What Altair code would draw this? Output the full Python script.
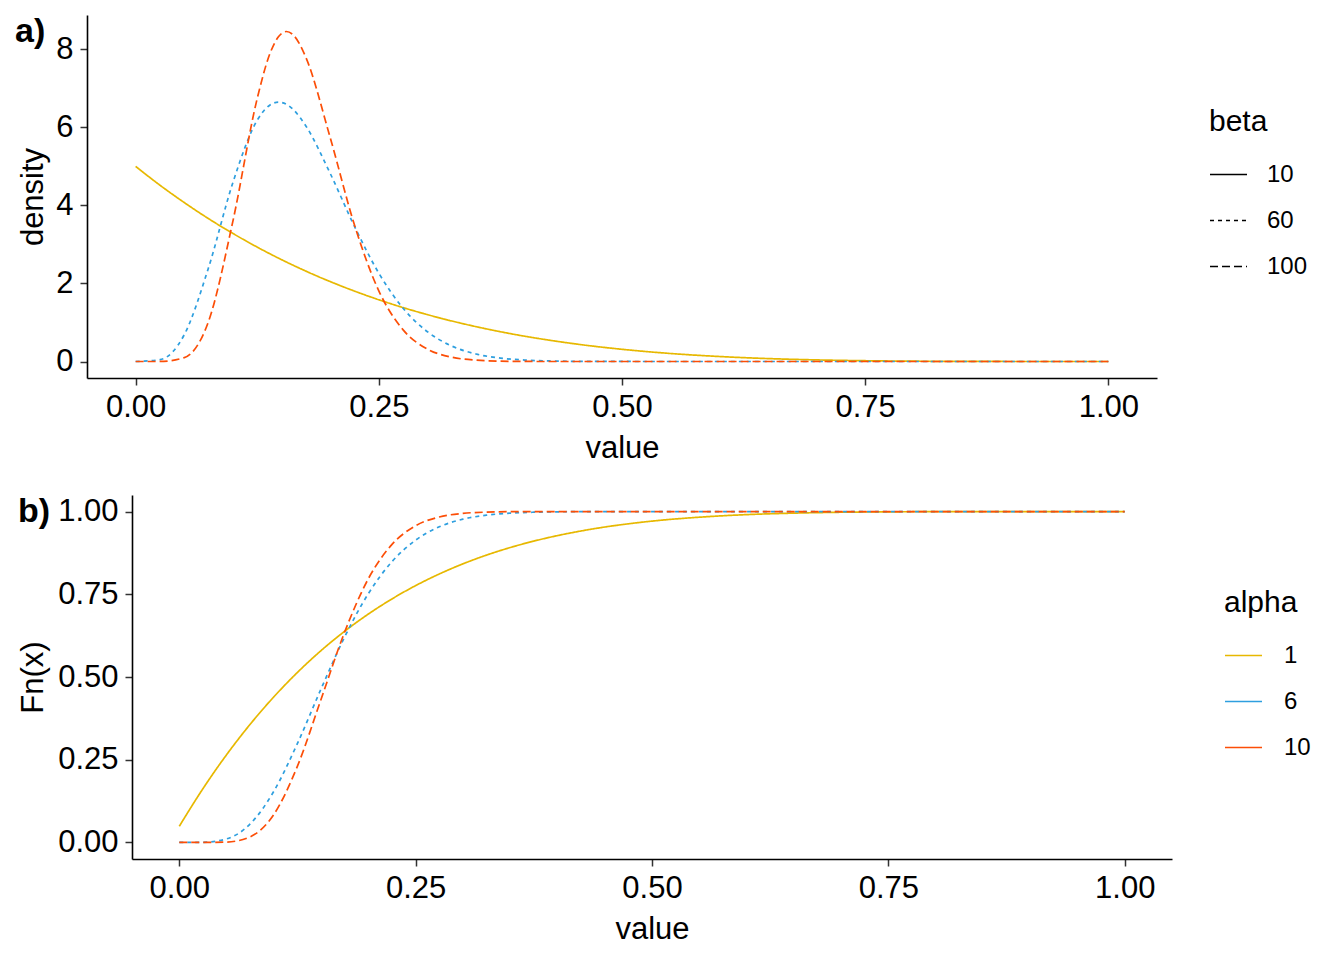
import altair as alt
import pandas as pd

FONT = "Liberation Sans"

# ---------- data ----------
alpha_levels = ["1", "6", "10"]
beta_levels = ["10", "60", "100"]
colors = ["#E7B800", "#2E9FDF", "#FC4E07"]
dashes = [[1, 0], [4, 4], [8, 4]]

x_density = [0, 0.025, 0.05, 0.075, 0.1, 0.125, 0.1375, 0.147, 0.15, 0.155, 0.1625,
             0.175, 0.2, 0.225, 0.25, 0.275, 0.3, 0.325, 0.35, 0.375, 0.4, 0.425,
             0.45, 0.475, 0.5, 0.55, 0.6, 0.65, 0.7, 0.75, 0.8, 0.85, 0.9, 0.95, 1.0]
gold_density = [5.0, 4.518, 4.073, 3.660, 3.281, 2.931, 2.767, 2.647, 2.610, 2.549, 2.460,
                2.316, 2.048, 1.804, 1.582, 1.381, 1.201, 1.038, 0.893, 0.763, 0.648, 0.547,
                0.458, 0.380, 0.313, 0.205, 0.128, 0.075, 0.041, 0.020, 0.008, 0.003, 0.0005, 0.0, 0.0]
blue_density = [0.0, 0.046, 0.688, 2.409, 4.587, 6.184, 6.562, 6.647, 6.639, 6.591, 6.446,
                6.037, 4.822, 3.461, 2.264, 1.364, 0.762, 0.396, 0.192, 0.087, 0.037, 0.014,
                0.005, 0.002, 0.001, 0.0, 0.0, 0.0, 0.0, 0.0, 0.0, 0.0, 0.0, 0.0, 0.0]
red_density = [0.0, 0.001, 0.099, 1.034, 3.598, 6.741, 7.853, 8.327, 8.403, 8.457, 8.357,
               7.793, 5.738, 3.496, 1.810, 0.810, 0.318, 0.110, 0.034, 0.009, 0.002, 0.0,
               0.0, 0.0, 0.0, 0.0, 0.0, 0.0, 0.0, 0.0, 0.0, 0.0, 0.0, 0.0, 0.0]

x_cdf = [0, 0.025, 0.05, 0.075, 0.1, 0.125, 0.15, 0.175, 0.2, 0.225, 0.25, 0.275, 0.3,
         0.325, 0.35, 0.375, 0.4, 0.425, 0.45, 0.475, 0.5, 0.55, 0.6, 0.65, 0.7, 0.75,
         0.8, 0.85, 0.9, 0.95, 1.0]
gold_cdf = [0.0488, 0.1624, 0.2650, 0.3572, 0.4399, 0.5139, 0.5799, 0.6384, 0.6903, 0.7360,
            0.7762, 0.8113, 0.8419, 0.8684, 0.8912, 0.9107, 0.9273, 0.9413, 0.9532, 0.9629,
            0.9711, 0.9829, 0.9907, 0.9952, 0.9979, 0.9991, 0.9997, 0.9999, 1.0, 1.0, 1.0]
blue_cdf = [0.0, 0.0004, 0.0107, 0.0560, 0.1546, 0.2993, 0.4643, 0.6216, 0.7520, 0.8487,
            0.9137, 0.9539, 0.9769, 0.9891, 0.9952, 0.9980, 0.9992, 0.9997, 0.9999, 1.0,
            1.0, 1.0, 1.0, 1.0, 1.0, 1.0, 1.0, 1.0, 1.0, 1.0, 1.0]
red_cdf = [0.0, 0.0, 0.0011, 0.0170, 0.0846, 0.2306, 0.4329, 0.6366, 0.7971, 0.9007,
           0.9571, 0.9836, 0.9944, 0.9983, 0.9996, 0.9999, 1.0, 1.0, 1.0, 1.0,
           1.0, 1.0, 1.0, 1.0, 1.0, 1.0, 1.0, 1.0, 1.0, 1.0, 1.0]

x_ticks = [0, 0.25, 0.5, 0.75, 1.0]
density_ticks = [0, 2, 4, 6, 8]
cdf_ticks = [0, 0.25, 0.5, 0.75, 1.0]


def long_table(xs, series):
    rows = []
    for i, (a, b) in enumerate(zip(alpha_levels, beta_levels)):
        for x, y in zip(xs, series[i]):
            rows.append({"value": x, "y": y, "alpha": a, "beta": b})
    return pd.DataFrame(rows)


df_a = long_table(x_density, [gold_density, blue_density, red_density])
df_b = long_table(x_cdf, [gold_cdf, blue_cdf, red_cdf])

# ---------- geometry ----------
ORIGIN = 87            # common left edge of both plot groups (page px)
HA, HB = 363, 364
# panel a plot: 87..1157 ; panel b plot: 132..1172 (shifted inside a wider group)
SHIFT_B = 45
WA = 1070
WB_GROUP = 1085

color_scale = alt.Scale(domain=alpha_levels, range=colors)
dash_scale = alt.Scale(domain=beta_levels, range=dashes)


def legend(title, lx, ly, loff):
    return alt.Legend(orient="none", legendX=lx, legendY=ly, title=title,
                      titleFont=FONT, titleFontSize=30, titleFontWeight="normal",
                      titleColor="black", titlePadding=18,
                      labelFont=FONT, labelFontSize=24, labelColor="black",
                      labelOffset=loff, symbolType="stroke", symbolSize=1369,
                      symbolStrokeWidth=1.6, rowPadding=14, padding=0,
                      symbolStrokeColor="black")


def panel(df, width, height, xrange, yoffset, ydomain, yticks, yfmt, ytitle,
          ytitle_x, tag, tag_x, show_color, show_dash, lx, ly, loff):
    xscale = alt.Scale(domain=[-0.05, 1.05], nice=False, zero=False, range=xrange)
    line = alt.Chart(df).mark_line(strokeWidth=1.7, interpolate="monotone").encode(
        x=alt.X("value:Q", scale=xscale,
                axis=alt.Axis(values=x_ticks, format=".2f", title="value",
                              titleY=79, titleBaseline="alphabetic",
                              titleX=(xrange[0] + xrange[1]) / 2, titleAlign="center")),
        y=alt.Y("y:Q", scale=alt.Scale(domain=ydomain, nice=False, zero=False),
                axis=alt.Axis(values=yticks, format=yfmt, title=ytitle, offset=yoffset,
                              titleAngle=270, titleX=ytitle_x, titleY=height / 2,
                              titleBaseline="alphabetic", titleAlign="center")),
        color=alt.Color("alpha:N", scale=color_scale,
                        legend=legend("alpha", lx, ly, loff) if show_color else None),
        strokeDash=alt.StrokeDash("beta:N", scale=dash_scale,
                                  legend=legend("beta", lx, ly, loff) if show_dash else None),
    )
    tag_df = pd.DataFrame({"label": [tag]})
    tag_mark = alt.Chart(tag_df).mark_text(
        font=FONT, fontSize=34, fontWeight="bold", align="left",
        baseline="alphabetic", color="black").encode(
        text="label:N", x=alt.value(tag_x), y=alt.value(27))
    return alt.layer(line, tag_mark).properties(width=width, height=height)


pa = panel(df_a, WA, HA, [0, WA], 0, [-0.4228, 8.8798], density_ticks, "d", "density",
           42 - 87, "a)", 15 - ORIGIN, False, True, 1122, 92, 19)
pb = panel(df_b, WB_GROUP, HB, [SHIFT_B, WB_GROUP], -SHIFT_B, [-0.05, 1.05], cdf_ticks,
           ".2f", "Fn(x)", 42 - 132, "b)", 18 - ORIGIN, True, False, 1137, 93, 21)

res = dict(color="independent", strokeDash="independent")

chart = alt.vconcat(pa, pb, spacing=32).resolve_scale(
    **res).resolve_legend(**res).properties(
    padding={"left": 7, "top": 7, "right": 5, "bottom": 5},
    background="white",
).configure_view(stroke=None).configure_axis(
    grid=False, domainColor="black", domainWidth=1.6, tickColor="#333333",
    tickWidth=1.5, tickSize=7, labelFont=FONT, labelFontSize=31, labelColor="black",
    labelPadding=7, titleFont=FONT, titleFontSize=31, titleFontWeight="normal",
    titleColor="black"
)

chart.save("out.html", embed_options={"renderer": "svg", "actions": False})
